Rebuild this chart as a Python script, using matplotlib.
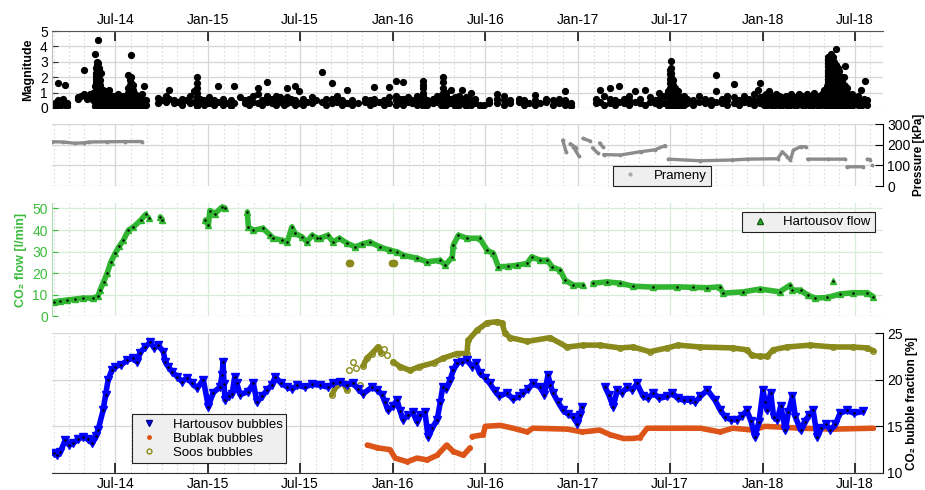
import numpy as np
import pandas as pd
import matplotlib
matplotlib.use("Agg")
import matplotlib.pyplot as plt
import matplotlib.dates as mdates
from matplotlib.lines import Line2D

plt.rcParams['font.family'] = ['Liberation Sans', 'DejaVu Sans']

# ---------------------------------------------------------------- data
# earthquake catalogue: one date with the magnitudes recorded around it
quake_dates = [
    "2014-03-04", "2014-03-09", "2014-03-14", "2014-03-20", "2014-03-24", "2014-03-28",
    "2014-04-19", "2014-04-24", "2014-05-01", "2014-05-06", "2014-05-12", "2014-05-18",
    "2014-05-22", "2014-05-24", "2014-05-26", "2014-05-28", "2014-05-30", "2014-06-01",
    "2014-06-03", "2014-06-06", "2014-06-10", "2014-06-14", "2014-06-18", "2014-06-23",
    "2014-06-27", "2014-07-02", "2014-07-07", "2014-07-12", "2014-07-17", "2014-07-22",
    "2014-07-27", "2014-07-30", "2014-08-02", "2014-08-05", "2014-08-09", "2014-08-13",
    "2014-08-18", "2014-08-22", "2014-08-26", "2014-08-30", "2014-09-24", "2014-09-30",
    "2014-10-10", "2014-10-16", "2014-10-25", "2014-11-02", "2014-11-10", "2014-11-18",
    "2014-11-26", "2014-12-04", "2014-12-10", "2014-12-16", "2014-12-24",
    "2015-01-03", "2015-01-12", "2015-01-21", "2015-01-29", "2015-02-08", "2015-02-14",
    "2015-02-20", "2015-03-04", "2015-03-14", "2015-03-22", "2015-03-30", "2015-04-09",
    "2015-04-17", "2015-04-27", "2015-05-06", "2015-05-14", "2015-05-22", "2015-05-30",
    "2015-06-05", "2015-06-13", "2015-06-21", "2015-06-29", "2015-07-07", "2015-07-15",
    "2015-07-24", "2015-08-02", "2015-08-14", "2015-08-22", "2015-09-02", "2015-09-12",
    "2015-09-22", "2015-10-02", "2015-10-12", "2015-10-24", "2015-11-06", "2015-11-16",
    "2015-11-25", "2015-12-04", "2015-12-14", "2015-12-24",
    "2016-01-06", "2016-01-14", "2016-01-21", "2016-01-30", "2016-02-08", "2016-02-17",
    "2016-02-24", "2016-03-01", "2016-03-08", "2016-03-20", "2016-03-28", "2016-04-04",
    "2016-04-09", "2016-04-15", "2016-04-24", "2016-05-02", "2016-05-10", "2016-05-16",
    "2016-05-24", "2016-06-02", "2016-06-10", "2016-06-20", "2016-06-28", "2016-07-08",
    "2016-07-24", "2016-08-08", "2016-08-18", "2016-09-06", "2016-09-16", "2016-09-26",
    "2016-10-08", "2016-10-18", "2016-10-30", "2016-11-12", "2016-11-24", "2016-12-06",
    "2016-12-18",
    "2017-02-04", "2017-02-12", "2017-02-20", "2017-03-05", "2017-03-14", "2017-03-23",
    "2017-04-02", "2017-04-12", "2017-04-22", "2017-05-02", "2017-05-12", "2017-05-22",
    "2017-06-01", "2017-06-10", "2017-06-20", "2017-06-28", "2017-07-02", "2017-07-04",
    "2017-07-07", "2017-07-11", "2017-07-16", "2017-07-22", "2017-07-28", "2017-08-04",
    "2017-08-16", "2017-08-28", "2017-09-08", "2017-09-20", "2017-10-01", "2017-10-12",
    "2017-10-22", "2017-11-04", "2017-11-14", "2017-11-24", "2017-12-04", "2017-12-14",
    "2017-12-22", "2017-12-26",
    "2018-01-02", "2018-01-07", "2018-01-12", "2018-01-17", "2018-01-22", "2018-01-27",
    "2018-02-01", "2018-02-06", "2018-02-11", "2018-02-16", "2018-02-21", "2018-02-26",
    "2018-03-03", "2018-03-08", "2018-03-13", "2018-03-18", "2018-03-23", "2018-03-28",
    "2018-04-02", "2018-04-07", "2018-04-12", "2018-04-17", "2018-04-22", "2018-04-27",
    "2018-05-02", "2018-05-07", "2018-05-10", "2018-05-13", "2018-05-16", "2018-05-19",
    "2018-05-22", "2018-05-26", "2018-05-29", "2018-06-01", "2018-06-05", "2018-06-09",
    "2018-06-12", "2018-06-16", "2018-06-21", "2018-06-26", "2018-07-02", "2018-07-08",
    "2018-07-14", "2018-07-20", "2018-07-22", "2018-07-26",
]
quake_mags = [
    [0.1, 0.3], [0.2, 0.5, 1.6], [0.1, 0.4], [0.3, 0.6], [0.2, 1.5], [0.1, 0.3],
    [0.6, 0.7], [0.8], [0.9, 2.5], [0.6], [0.8, 0.9], [0.5, 1.0],
    [0.1, 0.4, 0.8, 1.4, 3.5],
    [0.1, 0.3, 0.5, 0.7, 0.9, 1.1, 1.3, 1.5, 1.7, 1.9, 2.1, 2.3, 2.6],
    [0.1, 0.3, 0.5, 0.7, 0.9, 1.1, 1.3, 1.5, 1.7, 1.9, 2.1, 2.4, 2.8, 3.0],
    [0.1, 0.3, 0.5, 0.7, 0.9, 1.1, 1.3, 1.5, 1.8, 2.0, 2.2, 2.5, 2.9, 4.4],
    [0.1, 0.3, 0.5, 0.7, 0.9, 1.1, 1.3, 1.6, 1.9, 2.2, 2.6],
    [0.1, 0.3, 0.5, 0.7, 0.9, 1.2, 1.5, 1.8],
    [0.1, 0.3, 0.6, 0.9, 1.2, 2.3], [0.1, 0.4, 0.7, 1.0, 1.2], [0.2, 0.5, 0.8, 1.1],
    [0.1, 0.4, 0.7], [0.2, 0.5, 0.9, 1.2], [0.1, 0.4, 0.7],
    [0.2, 0.5, 0.8], [0.1, 0.4, 0.6], [0.2, 0.5, 0.9], [0.1, 0.3, 0.6], [0.2, 0.5, 0.8], [0.1, 0.4, 0.7],
    [0.1, 0.4, 0.7, 1.0, 1.3, 2.15], [0.1, 0.3, 0.6, 0.9, 1.2, 1.5, 1.8, 2.0],
    [0.1, 0.3, 0.6, 0.9, 1.2, 1.6, 2.0, 3.45], [0.1, 0.3, 0.6, 0.9, 1.2, 1.5],
    [0.1, 0.3, 0.6, 0.9], [0.2, 0.5, 0.8],
    [0.1, 0.4, 0.7], [0.2, 0.5, 0.9], [0.1, 0.4, 1.4], [0.2, 0.5], [0.3, 0.65], [0.5],
    [0.4, 0.8], [1.2, 0.6], [0.3, 0.5], [0.4], [0.2, 0.6], [0.5],
    [0.3, 0.8], [0.4, 1.1], [0.1, 0.4, 0.7, 1.0, 1.3, 1.6, 2.0], [0.3, 0.6], [0.2, 0.5],
    [0.3, 0.7], [0.2, 0.5], [0.4, 1.4], [0.2, 0.6], [0.3], [0.1, 0.5],
    [0.3, 1.45], [0.7], [0.3, 0.5], [0.2, 0.6], [0.4, 0.8], [0.3, 0.9, 1.3],
    [0.2, 0.5], [0.4, 0.8, 1.7], [0.3, 0.6], [0.2, 0.5, 0.8], [0.4, 0.7], [0.2, 0.5],
    [0.3, 0.7, 1.3], [0.4, 0.6], [0.2, 0.5, 1.4], [0.3, 1.1], [0.2, 0.6], [0.4],
    [0.3, 0.7], [0.5], [0.4, 2.35], [0.2, 0.6], [0.3, 0.6, 1.6], [0.4, 0.8],
    [0.2, 0.5], [0.3, 1.2], [0.2, 0.5], [0.3], [0.4, 0.6], [0.2, 0.5],
    [0.3, 0.6, 1.35], [0.4], [0.2, 0.5], [0.3, 0.7, 1.35],
    [0.2, 0.5, 0.8, 1.75], [0.3, 0.6], [0.2, 0.6, 1.7], [0.4, 0.7], [0.3, 0.5], [0.2, 0.6, 0.8],
    [0.3, 0.5], [0.1, 0.3, 0.5, 0.8, 1.0, 1.3, 1.5, 1.75], [0.2, 0.5], [0.3, 0.6], [0.4, 0.8], [0.2, 0.5, 0.8],
    [0.1, 0.4, 0.7, 1.0, 1.3, 1.7, 2.0], [0.2, 0.5, 0.8, 1.0], [0.3, 0.6, 1.2], [0.1, 0.4, 0.7], [0.2, 0.5, 0.8], [0.3, 0.6, 1.15],
    [0.1, 0.4, 0.7], [0.2, 0.5, 1.0], [0.3, 0.6], [0.1, 0.2], [0.2], [0.3, 0.5],
    [0.3, 0.6, 0.9], [0.2, 0.5, 0.8], [0.3, 0.5], [0.4, 0.6], [0.2, 0.5], [0.3],
    [0.2, 0.5, 0.85], [0.3], [0.4, 0.6], [0.2, 0.5], [0.3, 0.6], [0.2, 0.5, 1.1],
    [0.1, 0.3],
    [0.3, 0.6], [0.4, 1.15], [0.2, 0.8], [0.3, 0.6, 1.3], [0.2, 0.5], [0.4, 1.45],
    [0.3, 0.6], [0.2, 0.5, 0.8], [0.4, 1.1], [0.3, 0.6], [0.2, 1.15], [0.4, 0.7],
    [0.3, 0.5], [0.2, 0.6, 1.0], [0.3, 0.8], [0.1, 0.4, 0.8, 1.1],
    [0.1, 0.3, 0.5, 0.7, 0.9, 1.1, 1.3, 1.6, 1.9, 2.2, 2.5],
    [0.1, 0.3, 0.5, 0.7, 0.9, 1.1, 1.3, 1.5, 1.7, 2.0, 2.3, 2.6, 3.05],
    [0.1, 0.3, 0.5, 0.7, 0.9, 1.2, 1.5, 1.8], [0.1, 0.4, 0.7, 1.0, 1.3], [0.2, 0.5, 0.8, 1.1],
    [0.1, 0.4, 0.7], [0.2, 0.5, 0.8], [0.3, 0.6],
    [0.2, 0.5], [0.4, 0.8], [0.3, 0.6], [0.2, 0.5], [0.4, 1.1, 2.15], [0.3, 0.6],
    [0.2, 0.5, 0.8], [0.3, 0.7, 1.55], [0.2, 0.5], [0.4, 0.8], [0.3, 0.6], [0.2, 0.5, 0.9],
    [0.4, 1.2], [0.3, 0.7, 1.6],
    [0.2, 0.5, 0.8], [0.1, 0.4, 0.9], [0.3, 0.6, 1.1], [0.2, 0.5, 0.8], [0.1, 0.4, 0.7], [0.3, 0.6, 0.9],
    [0.2, 0.5, 0.8], [0.1, 0.4, 0.7], [0.3, 0.6], [0.2, 0.5, 0.8], [0.1, 0.4, 0.7], [0.3, 0.6, 0.9],
    [0.2, 0.5], [0.1, 0.4, 0.7], [0.3, 0.6, 0.9], [0.2, 0.5, 0.8], [0.1, 0.4], [0.3, 0.6, 0.9],
    [0.2, 0.5, 0.8], [0.1, 0.4, 0.7], [0.3, 0.6, 1.0], [0.2, 0.5, 0.8], [0.1, 0.4, 0.7], [0.3, 0.6, 0.9],
    [0.2, 0.5, 0.8, 1.2], [0.1, 0.4, 0.7, 1.45],
    [0.1, 0.3, 0.5, 0.7, 0.9, 1.1, 1.3, 1.5, 1.7, 1.9, 2.1, 2.3, 2.5, 2.7, 2.9, 3.1, 3.3],
    [0.1, 0.3, 0.5, 0.7, 0.9, 1.1, 1.3, 1.5, 1.7, 1.9, 2.1, 2.3, 2.5, 2.7, 2.9, 3.1, 3.4],
    [0.1, 0.3, 0.5, 0.7, 0.9, 1.1, 1.3, 1.5, 1.7, 1.9, 2.1, 2.3, 2.5, 2.7, 2.9, 3.1, 3.5],
    [0.1, 0.3, 0.5, 0.7, 0.9, 1.1, 1.3, 1.5, 1.7, 1.9, 2.1, 2.3, 2.5, 2.7, 2.9, 3.3],
    [0.1, 0.3, 0.5, 0.7, 0.9, 1.1, 1.3, 1.5, 1.7, 1.9, 2.1, 2.3, 2.5, 2.7, 3.0],
    [0.1, 0.3, 0.5, 0.7, 0.9, 1.1, 1.3, 1.5, 1.7, 1.9, 2.1, 2.3, 2.5, 2.8, 3.8],
    [0.1, 0.3, 0.5, 0.7, 0.9, 1.1, 1.3, 1.5, 1.7, 1.9, 2.1, 2.3, 2.6],
    [0.1, 0.3, 0.5, 0.7, 0.9, 1.1, 1.3, 1.5, 1.7, 2.0, 2.4],
    [0.1, 0.3, 0.5, 0.7, 0.9, 1.1, 1.4, 1.7, 2.0],
    [0.1, 0.3, 0.5, 0.7, 0.9, 1.2, 1.5, 2.0],
    [0.2, 0.5, 0.8, 1.1, 1.4, 2.7], [0.1, 0.4, 0.7, 1.0, 1.3], [0.2, 0.5, 0.8], [0.1, 0.4, 0.9],
    [0.3, 0.6], [0.2, 0.5, 0.8], [0.1, 0.4, 1.2], [0.3, 0.6], [1.75], [0.2, 0.5],
]

# spring pressure (Prameny); None separates gaps and isolated streaks
pres_dates = [
    "2014-02-27", "2014-03-20", "2014-04-12", "2014-04-30", "2014-05-10", "2014-06-15",
    "2014-07-20", "2014-08-23", "2015-06-01",
    "2016-12-01", "2016-12-08", "2016-12-12",
    "2016-12-16", "2016-12-28", "2016-12-29",
    "2016-12-22", "2017-01-02", "2017-01-05",
    "2017-01-10", "2017-01-24", "2017-01-26",
    "2017-01-29", "2017-02-08", "2017-02-10",
    "2017-02-12", "2017-02-18", "2017-02-19",
    "2017-02-20", "2017-03-25", "2017-05-04", "2017-06-01", "2017-06-22", "2017-06-25",
    "2017-06-28", "2017-08-30", "2017-11-01", "2017-12-02", "2018-01-30", "2018-02-08",
    "2018-02-18", "2018-02-24", "2018-03-02", "2018-03-16", "2018-03-26", "2018-03-28",
    "2018-03-30", "2018-05-10", "2018-06-12", "2018-06-14",
    "2018-06-16", "2018-07-18", "2018-07-22",
    "2018-07-26", "2018-08-01", "2018-08-03",
    "2018-08-05",
]
pres_vals = [
    214, 213, 207, 209, 213, 214,
    215, 215, None,
    222, 165, None,
    205, 185, None,
    190, 145, None,
    230, 218, None,
    185, 160, None,
    208, 190, None,
    152, 150, 166, 175, 196, None,
    130, 122, 126, 130, 132, 166,
    142, 126, 174, 190, 190, None,
    130, 130, 130, None,
    93, 93, None,
    130, 128, None,
    101,
]

# Hartousov CO2 flow [l/min]
flow_dates = [
    "2014-03-01", "2014-03-14", "2014-03-28", "2014-04-12", "2014-04-28", "2014-05-18",
    "2014-05-28", "2014-06-01", "2014-06-08", "2014-06-15", "2014-06-22", "2014-07-01",
    "2014-07-09", "2014-07-17", "2014-07-27", "2014-08-06", "2014-08-20", "2014-08-30",
    "2014-09-15", "2014-09-28", "2014-10-02", "2014-11-15",
    "2014-12-26", "2015-01-01", "2015-01-04", "2015-01-14", "2015-01-28", "2015-02-03",
    "2015-02-25", "2015-03-19", "2015-03-21", "2015-03-31", "2015-04-19", "2015-05-03",
    "2015-05-09", "2015-05-27", "2015-06-06", "2015-06-15", "2015-06-21", "2015-07-05",
    "2015-07-15", "2015-07-25", "2015-08-04", "2015-08-10", "2015-08-25", "2015-09-04",
    "2015-09-17", "2015-10-01", "2015-10-18", "2015-11-01", "2015-11-16", "2015-12-06",
    "2015-12-26", "2016-01-09", "2016-01-21", "2016-02-17", "2016-03-08", "2016-04-03",
    "2016-04-13", "2016-04-27", "2016-04-29", "2016-05-09", "2016-05-26", "2016-06-20",
    "2016-07-05", "2016-07-17", "2016-07-27", "2016-08-15", "2016-09-02", "2016-09-22",
    "2016-10-01", "2016-10-18", "2016-11-01", "2016-11-10", "2016-11-26", "2016-12-06",
    "2016-12-22", "2017-01-10", "2017-01-20",
    "2017-01-30", "2017-02-27", "2017-03-25", "2017-04-19", "2017-05-29", "2017-07-15",
    "2017-08-15", "2017-09-13", "2017-10-08", "2017-10-14", "2017-11-23", "2017-12-26",
    "2018-02-03", "2018-02-23", "2018-02-28", "2018-03-16", "2018-03-30", "2018-04-14",
    "2018-05-08", "2018-06-02", "2018-06-28", "2018-07-26", "2018-08-07",
]
flow_vals = [
    6.8, 7.2, 7.6, 8.0, 8.5, 8.5,
    9.4, 12.2, 16.0, 20.0, 25.0, 29.3,
    32.5, 35.2, 39.9, 41.4, 44.5, 47.2,
    None, 46.0, 44.7, None,
    44.5, 42.2, 49.0, 47.6, 50.6, 50.0,
    None, 48.3, 41.4, 39.9, 40.8, 37.6,
    36.2, 35.2, 34.5, 41.4, 38.5, 36.8,
    34.5, 37.6, 36.2, 36.2, 37.6, 34.5,
    36.2, 34.0, 32.2, 33.5, 34.5, 32.2,
    30.6, 29.9, 28.3, 27.0, 25.3, 26.0,
    23.7, 27.6, 33.0, 37.6, 36.2, 36.2,
    30.6, 29.2, 23.0, 23.2, 23.7, 24.6,
    27.6, 26.0, 26.0, 23.0, 21.4, 16.8,
    14.5, 14.5, None,
    15.4, 16.0, 15.4, 14.0, 13.6, 13.7,
    13.5, 13.3, 13.7, 10.8, 11.4, 12.7,
    11.4, 14.5, 12.2, 12.2, 9.9, 8.5,
    8.8, 10.4, 11.0, 11.0, 9.1,
]
# isolated flow readings
flow_extra_dates = ["2014-09-05", "2018-05-20"]
flow_extra_vals = [45.5, 16.5]
# Soos flow readings
soos_flow_dates = ["2015-10-05", "2015-10-08", "2015-12-30", "2016-01-02"]
soos_flow_vals = [24.6, 24.6, 24.6, 24.6]

# CO2 bubble fraction [%]
hart_bub_dates = [
    "2014-03-01", "2014-03-08", "2014-03-14", "2014-03-24", "2014-04-01", "2014-04-09",
    "2014-04-18", "2014-04-29", "2014-05-08", "2014-05-17", "2014-05-24", "2014-05-28",
    "2014-06-07", "2014-06-12", "2014-06-17", "2014-06-24", "2014-07-01", "2014-07-13",
    "2014-07-25", "2014-08-05", "2014-08-13", "2014-08-19", "2014-08-29", "2014-09-08",
    "2014-09-16", "2014-09-24", "2014-10-04", "2014-10-08", "2014-10-14", "2014-10-22",
    "2014-11-01", "2014-11-10", "2014-11-20", "2014-11-30", "2014-12-10", "2014-12-22",
    "2015-01-01", "2015-01-10", "2015-01-24", "2015-01-28", "2015-01-30", "2015-02-01",
    "2015-02-03", "2015-02-10", "2015-02-17", "2015-02-22", "2015-02-26", "2015-03-05",
    "2015-03-20", "2015-03-31", "2015-04-07", "2015-04-17", "2015-04-27", "2015-05-06",
    "2015-05-13", "2015-05-25", "2015-06-06", "2015-06-16", "2015-06-26", "2015-07-10",
    "2015-07-25", "2015-08-10", "2015-08-25", "2015-09-05", "2015-09-18", "2015-10-01",
    "2015-10-14", "2015-10-24", "2015-11-03", "2015-11-20", "2015-12-01", "2015-12-10",
    "2015-12-16", "2015-12-22", "2016-01-01", "2016-01-09", "2016-01-15", "2016-01-21",
    "2016-01-30", "2016-02-09", "2016-02-17", "2016-02-24", "2016-03-04", "2016-03-10",
    "2016-03-18", "2016-03-28", "2016-04-03", "2016-04-08", "2016-04-15", "2016-04-22",
    "2016-04-29", "2016-05-06", "2016-05-16", "2016-05-26", "2016-06-05", "2016-06-12",
    "2016-06-20", "2016-07-01", "2016-07-10", "2016-07-20", "2016-07-29", "2016-08-13",
    "2016-08-25", "2016-09-05", "2016-09-14", "2016-09-24", "2016-10-03", "2016-10-17",
    "2016-10-26", "2016-11-02", "2016-11-07", "2016-11-12", "2016-11-22", "2016-12-02",
    "2016-12-12", "2016-12-22", "2016-12-30", "2017-01-05", "2017-01-09", "2017-01-30",
    "2017-02-23", "2017-03-02", "2017-03-11", "2017-03-19", "2017-03-28", "2017-04-08",
    "2017-04-18", "2017-04-27", "2017-05-09", "2017-05-19", "2017-05-29", "2017-06-10",
    "2017-06-26", "2017-07-06", "2017-07-16", "2017-07-28", "2017-08-10", "2017-08-20",
    "2017-08-30", "2017-09-13", "2017-09-28", "2017-10-08", "2017-10-18", "2017-10-30",
    "2017-11-10", "2017-11-20", "2017-11-30", "2017-12-08", "2017-12-16", "2017-12-24",
    "2018-01-01", "2018-01-05", "2018-01-09", "2018-01-16", "2018-01-22", "2018-01-29",
    "2018-02-05", "2018-02-14", "2018-02-20", "2018-02-28", "2018-03-06", "2018-03-16",
    "2018-03-24", "2018-04-02", "2018-04-10", "2018-04-18", "2018-04-26", "2018-05-06",
    "2018-05-14", "2018-05-24", "2018-06-02", "2018-06-16", "2018-06-30", "2018-07-18",
]
hart_bub_vals = [
    12.1, 11.9, 12.2, 13.5, 13.0, 13.2,
    13.6, 13.9, 13.6, 13.2, 14.0, 14.6,
    16.7, 18.4, 20.0, 21.0, 21.4, 21.6,
    22.1, 22.3, 21.9, 22.9, 23.5, 24.0,
    23.4, 23.7, 23.0, 21.9, 21.4, 20.8,
    20.3, 19.8, 20.2, 19.6, 19.1, 20.0,
    17.1, 18.6, 19.2, 20.5, 21.9, 19.5,
    17.8, 18.2, 18.5, 20.3, 19.6, 18.4,
    18.7, 19.6, 17.6, 18.2, 18.9, 19.4,
    20.3, 19.6, 19.2, 19.0, 19.4, 19.2,
    19.5, 19.4, 19.2, 19.6, 19.8, 19.4,
    19.6, 19.0, 18.5, 19.2, 18.9, 18.4,
    17.6, 16.7, 17.2, 17.8, 16.6, 15.7,
    16.2, 16.5, 15.5, 16.2, 16.5, 13.9,
    14.8, 15.7, 17.5, 19.2, 19.0, 19.9,
    21.0, 21.8, 21.9, 22.1, 21.4, 21.8,
    20.7, 20.2, 19.6, 18.8, 18.2, 18.6,
    17.9, 18.2, 18.6, 19.0, 19.6, 19.2,
    18.4, 20.5, 19.4, 18.6, 17.6, 16.7,
    16.3, 16.0, 15.3, 16.2, 17.1, None,
    19.2, 18.4, 17.1, 18.9, 18.6, 19.2,
    18.9, 19.6, 18.2, 18.0, 18.6, 18.0,
    18.2, 18.6, 18.0, 17.8, 17.8, 17.6,
    18.2, 18.9, 17.8, 16.8, 16.0, 15.7,
    15.7, 16.1, 16.7, 15.6, 13.9, 15.5,
    18.9, 17.6, 16.7, 18.6, 16.0, 15.7,
    17.2, 14.6, 16.5, 18.2, 16.0, 14.6,
    15.5, 16.2, 16.7, 13.9, 14.8, 15.2,
    14.6, 15.2, 16.4, 16.7, 16.4, 16.6,
]

bublak_dates = [
    "2015-11-11", "2015-12-01", "2015-12-26", "2016-01-05", "2016-01-29", "2016-02-17",
    "2016-03-08", "2016-03-28", "2016-04-16", "2016-04-29", "2016-05-19", "2016-06-01",
    "2016-06-03",
    "2016-06-05", "2016-06-27", "2016-07-01", "2016-07-31", "2016-08-25", "2016-09-22",
    "2016-10-03", "2016-12-10", "2017-01-09", "2017-02-12", "2017-03-05", "2017-03-31",
    "2017-04-19", "2017-05-03", "2017-05-17", "2017-06-26", "2017-08-30", "2017-10-08",
    "2017-11-02", "2017-12-12", "2018-01-05", "2018-03-16", "2018-05-20", "2018-08-07",
]
bublak_vals = [
    13.0, 12.7, 12.5, 11.6, 11.2, 11.6,
    11.4, 11.9, 13.0, 12.3, 11.9, 12.7,
    None,
    13.9, 14.1, 15.0, 15.1, 14.8, 14.4,
    14.8, 14.7, 14.4, 14.6, 14.1, 13.7,
    13.7, 13.8, 14.8, 14.8, 14.8, 14.4,
    14.8, 14.6, 15.0, 14.8, 14.7, 14.8,
]

soos_dates = [
    "2015-09-02", "2015-09-12", "2015-09-22", "2015-10-02", "2015-10-03",
    "2015-10-06", "2015-10-09", "2015-10-14", "2015-10-17", "2015-10-20", "2015-10-24",
    "2015-10-28", "2015-10-31",
    "2015-11-03", "2015-11-10", "2015-11-20", "2015-12-02", "2015-12-08", "2015-12-10",
    "2015-12-14", "2015-12-17", "2015-12-20", "2015-12-23",
    "2016-01-01", "2016-01-15", "2016-02-03", "2016-02-22", "2016-03-21", "2016-04-09",
    "2016-05-06", "2016-05-26", "2016-05-28", "2016-06-15", "2016-07-05", "2016-07-24",
    "2016-08-03", "2016-08-09", "2016-08-19", "2016-09-22", "2016-11-06", "2016-12-10",
    "2017-01-11", "2017-02-12", "2017-03-25", "2017-04-19", "2017-05-22", "2017-06-26",
    "2017-07-17", "2017-08-30", "2017-11-02", "2017-11-30", "2017-12-10", "2017-12-26",
    "2018-01-09", "2018-01-21", "2018-02-17", "2018-04-04", "2018-05-20", "2018-06-28",
    "2018-07-26", "2018-08-07",
]
soos_vals = [
    18.4, 19.4, 19.8, 18.9, None,
    21.0, None, 21.9, None, 21.2, None,
    19.4, None,
    21.5, 22.3, 22.8, 23.5, 22.9, None,
    23.3, None, 22.6, None,
    21.9, 21.4, 21.0, 21.4, 21.8, 22.3,
    22.8, 22.8, 24.2, 25.3, 26.1, 26.2,
    26.1, 25.0, 24.5, 24.1, 24.5, 23.5,
    23.7, 23.7, 23.4, 23.5, 23.0, 23.4,
    23.7, 23.5, 23.4, 23.2, 22.6, 22.5,
    22.5, 23.2, 23.5, 23.7, 23.5, 23.5,
    23.4, 23.1,
]

# ---------------------------------------------------------------- helpers
def as_dates(lst):
    return pd.to_datetime(lst)

def as_vals(lst):
    return np.array([np.nan if v is None else v for v in lst], dtype=float)

BLUE = '#0000ff'
GREEN = '#2fb52f'
GREEN_TXT = '#3cbc3c'
ORANGE = '#dd5418'
OLIVE = '#8a8a1c'
GRAY = '#8c8c8c'
GRID = '#d6d6d6'
MINOR = '#c8c8c8'

x_start, x_end = pd.Timestamp('2014-02-26'), pd.Timestamp('2018-08-26')

fig = plt.figure(figsize=(9.25, 4.9), dpi=100)
L, W = 0.0562, 0.8984
ax1 = fig.add_axes([L, 0.7796, W, 0.1571])
ax2 = fig.add_axes([L, 0.6204, W, 0.1265])
ax3 = fig.add_axes([L, 0.3541, W, 0.2316])
ax4 = fig.add_axes([L, 0.0347, W, 0.2857])


def base_axis(ax, gridcolor=GRID, minorcolor=MINOR):
    ax.set_xlim(x_start, x_end)
    ax.xaxis.set_major_locator(mdates.MonthLocator(bymonth=[1, 7]))
    ax.xaxis.set_minor_locator(mdates.MonthLocator())
    ax.xaxis.set_major_formatter(mdates.DateFormatter('%b-%y'))
    ax.grid(True, which='major', axis='both', color=gridcolor, lw=0.9, ls='-')
    ax.grid(True, which='minor', axis='x', color=minorcolor, lw=0.8, ls=(0, (1, 2.6)))
    ax.set_axisbelow(True)
    for s in ax.spines.values():
        s.set_visible(False)
    ax.tick_params(axis='both', which='both', labelsize=10)
    ax.tick_params(axis='x', which='minor', length=0)


def boxed_legend(leg):
    fr = leg.get_frame()
    fr.set_facecolor('#efefef')
    fr.set_edgecolor('#222222')
    fr.set_linewidth(0.8)


# ---------------------------------------------------------------- magnitude
base_axis(ax1)
qd, qm = [], []
for d, mags in zip(quake_dates, quake_mags):
    for m in mags:
        qd.append(d)
        qm.append(m)
ax1.plot(as_dates(qd), qm, ls='none', marker='o', ms=4.2, color='black', mec='black')
ax1.set_ylim(0, 5)
ax1.set_yticks([0, 1, 2, 3, 4, 5])
ax1.xaxis.tick_top()
ax1.tick_params(axis='x', which='major', direction='in', length=7, width=1.1,
                color='black', top=True, bottom=False, labeltop=True, labelbottom=False, pad=3)
ax1.tick_params(axis='y', direction='in', length=4, color='#333333', pad=3)
ax1.spines['top'].set_visible(True)
ax1.spines['top'].set_color('#555555')
ax1.spines['left'].set_visible(True)
ax1.spines['left'].set_color('#bbbbbb')
ax1.set_ylabel('Magnitude', fontsize=9, fontweight='bold', labelpad=4)

# ---------------------------------------------------------------- pressure
base_axis(ax2)
ax2.plot(as_dates(pres_dates), as_vals(pres_vals), color=GRAY, lw=2.4, marker='.', ms=3.5,
         solid_capstyle='round')
ax2.set_ylim(0, 300)
ax2.set_yticks([0, 100, 200, 300])
ax2.yaxis.tick_right()
ax2.yaxis.set_label_position('right')
ax2.spines['right'].set_visible(True)
ax2.spines['right'].set_color('black')
ax2.tick_params(axis='y', direction='in', length=6, color='black', pad=3)
ax2.tick_params(axis='x', which='both', length=0, labelbottom=False, labeltop=False)
ax2.set_ylabel('Pressure [kPa]', fontsize=8.5, fontweight='bold', labelpad=2)
h_pres = Line2D([], [], ls='none', marker='.', ms=4, color='#aaaaaa')
leg2 = ax2.legend([h_pres], ['Prameny'], loc='lower left', bbox_to_anchor=(0.675, 0.0),
                  fontsize=9.5, frameon=True, fancybox=False, framealpha=1,
                  borderpad=0.3, handletextpad=0.8, handlelength=2.0, borderaxespad=0)
boxed_legend(leg2)

# ---------------------------------------------------------------- flow
base_axis(ax3, gridcolor='#d9ecd9')
fd, fv = as_dates(flow_dates), as_vals(flow_vals)
ax3.plot(fd, fv, color=GREEN, lw=4.0, marker='^', ms=5, mec=GREEN, solid_capstyle='round')
ax3.plot(fd, fv, ls='none', marker='.', ms=1.6, color='black')
ax3.plot(as_dates(flow_extra_dates), flow_extra_vals, ls='none', marker='^', ms=5,
         color=GREEN, mec=GREEN)
ax3.plot(as_dates(flow_extra_dates), flow_extra_vals, ls='none', marker='.', ms=1.6, color='black')
ax3.plot(as_dates(soos_flow_dates), soos_flow_vals, ls='none', marker='o', ms=4.5,
         color=OLIVE, mec=OLIVE)
ax3.set_ylim(0, 52.5)
ax3.set_yticks([0, 10, 20, 30, 40, 50])
ax3.spines['left'].set_visible(True)
ax3.spines['left'].set_color('#a8dca8')
ax3.tick_params(axis='y', direction='in', length=4, color=GREEN_TXT, labelcolor=GREEN_TXT, pad=3)
ax3.tick_params(axis='x', which='both', length=0, labelbottom=False)
ax3.set_ylabel('CO\u2082 flow [l/min]', fontsize=9, fontweight='bold', color=GREEN_TXT, labelpad=4)
h_flow = Line2D([], [], ls='none', marker='^', ms=5, color=GREEN, mec='#106010')
leg3 = ax3.legend([h_flow], ['Hartousov flow'], loc='upper right', bbox_to_anchor=(0.99, 0.92),
                  fontsize=9.5, frameon=True, fancybox=False, framealpha=1,
                  borderpad=0.3, handletextpad=0.8, handlelength=2.0, borderaxespad=0)
boxed_legend(leg3)

# ---------------------------------------------------------------- bubble fraction
base_axis(ax4)
hd, hv = as_dates(hart_bub_dates), as_vals(hart_bub_vals)
ax4.plot(as_dates(bublak_dates), as_vals(bublak_vals), color=ORANGE, lw=4.0, marker='.',
         ms=5, solid_capstyle='round')
ax4.plot(as_dates(soos_dates), as_vals(soos_vals), color=OLIVE, lw=4.0, marker='o', ms=4,
         mfc='none', mec=OLIVE, mew=1.0, solid_capstyle='round', clip_on=False)
ax4.plot(hd, hv, color=BLUE, lw=4.0, marker='v', ms=5.5, mec=BLUE, solid_capstyle='round')
ax4.plot(hd, hv, ls='none', marker='.', ms=1.6, color='black')
ax4.set_ylim(10, 25)
ax4.set_yticks([10, 15, 20, 25])
ax4.yaxis.tick_right()
ax4.yaxis.set_label_position('right')
ax4.spines['right'].set_visible(True)
ax4.spines['right'].set_color('black')
ax4.spines['bottom'].set_visible(True)
ax4.spines['bottom'].set_color('#333333')
ax4.tick_params(axis='y', direction='in', length=6, color='black', pad=3)
ax4.tick_params(axis='x', which='major', direction='in', length=7, width=1.1, color='black', pad=3)
ax4.set_ylabel('CO\u2082 bubble fraction [%]', fontsize=8.5, fontweight='bold', labelpad=2)
h_hb = Line2D([], [], ls='none', marker='v', ms=5, color=BLUE, mec='#000080')
h_bb = Line2D([], [], ls='none', marker='.', ms=5, color=ORANGE)
h_sb = Line2D([], [], ls='none', marker='o', ms=3.5, mfc='none', mec=OLIVE, mew=1.0)
leg4 = ax4.legend([h_hb, h_bb, h_sb], ['Hartousov bubbles', 'Bublak bubbles', 'Soos bubbles'],
                  loc='lower left', bbox_to_anchor=(0.096, 0.071), fontsize=9.5, frameon=True,
                  fancybox=False, framealpha=1, borderpad=0.3, handletextpad=0.8,
                  handlelength=2.0, labelspacing=0.15, borderaxespad=0)
boxed_legend(leg4)

fig.savefig('out.png', dpi=100)
